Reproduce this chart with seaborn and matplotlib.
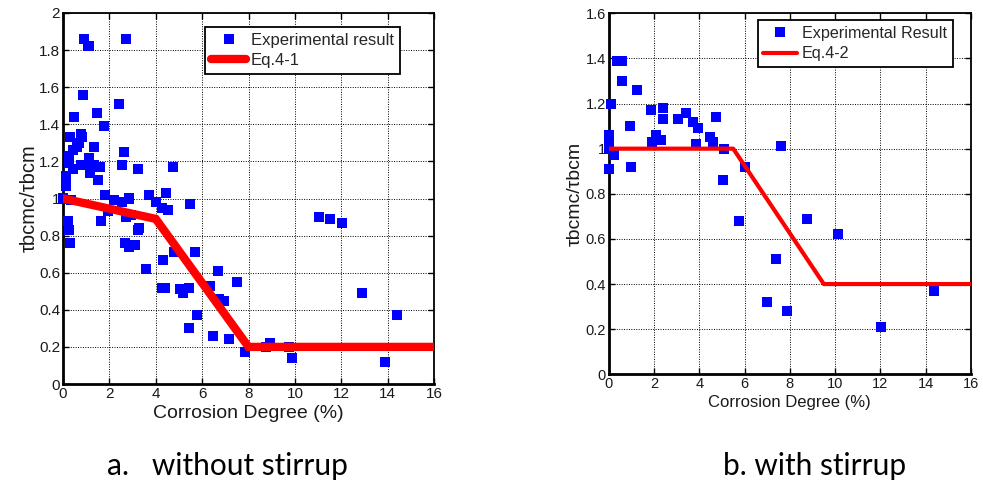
import numpy as np
import pandas as pd
import matplotlib
matplotlib.use("Agg")
import matplotlib.pyplot as plt
import seaborn as sns
from matplotlib.lines import Line2D

# ---- data: panel a (without stirrup) ----
a_x = [0.92, 1.10, 2.73, 0.88, 0.49, 1.47, 2.41, 1.78,
       0.29, 0.78, 0.83, 0.69, 0.59, 1.32, 0.45, 0.26, 0.26, 1.12, 0.45, 0.78, 1.09, 1.35, 1.59, 1.15, 1.52,
       2.64, 2.53, 3.22, 4.73,
       0.11, 0.11, 0.00, 0.34, 1.81, 2.21, 2.53, 2.84, 1.95, 2.72, 2.93, 1.64, 3.72, 4.43, 4.00, 4.28, 4.51, 5.46,
       3.28, 3.25, 2.67, 3.10, 2.84, 0.20, 0.26, 0.30,
       3.58, 4.30, 4.77, 5.68, 4.25, 4.41, 5.06, 5.17, 5.42, 6.32, 6.68, 7.50, 6.71, 6.95, 5.80, 5.45, 6.49, 7.14, 7.83,
       8.76, 8.93, 9.73, 9.89, 11.02, 11.52, 12.02, 12.89, 14.42, 13.87]
a_y = [1.86, 1.82, 1.86, 1.56, 1.44, 1.46, 1.51, 1.39,
       1.33, 1.35, 1.33, 1.30, 1.28, 1.28, 1.26, 1.23, 1.19, 1.22, 1.16, 1.18, 1.18, 1.18, 1.17, 1.14, 1.10,
       1.25, 1.18, 1.16, 1.17,
       1.12, 1.07, 1.00, 0.99, 1.02, 0.99, 0.98, 1.00, 0.93, 0.90, 0.91, 0.88, 1.02, 1.03, 0.98, 0.95, 0.94, 0.97,
       0.84, 0.83, 0.76, 0.75, 0.74, 0.88, 0.83, 0.76,
       0.62, 0.67, 0.71, 0.71, 0.52, 0.52, 0.51, 0.49, 0.52, 0.53, 0.61, 0.55, 0.46, 0.45, 0.37, 0.30, 0.26, 0.24, 0.17,
       0.20, 0.22, 0.20, 0.14, 0.90, 0.89, 0.87, 0.49, 0.37, 0.12]
eq41_x = [0, 4, 8, 16]
eq41_y = [1.0, 0.89, 0.2, 0.2]

# ---- data: panel b (with stirrup) ----
b_x = [0.35, 0.57, 0.59, 1.24, 0.09, 1.85, 2.41, 2.41, 3.04, 3.41, 3.71, 3.93, 4.74, 0.94, 2.09, 2.29, 1.90,
       4.47, 4.59, 3.84, 5.09, 0.00, 0.00, 0.03, 0.24, 0.00, 0.97, 6.03, 5.06, 7.60, 5.74, 7.00, 7.41, 8.76,
       10.13, 7.88, 12.03, 14.38]
b_y = [1.39, 1.39, 1.30, 1.26, 1.20, 1.17, 1.18, 1.13, 1.13, 1.16, 1.12, 1.09, 1.14, 1.10, 1.06, 1.04, 1.03,
       1.05, 1.03, 1.02, 1.00, 1.06, 1.03, 1.00, 0.97, 0.91, 0.92, 0.92, 0.86, 1.01, 0.68, 0.32, 0.51, 0.69,
       0.62, 0.28, 0.21, 0.37]
eq42_x = [0, 5.5, 9.5, 16]
eq42_y = [1.0, 1.0, 0.4, 0.4]

x_ticks = [0, 2, 4, 6, 8, 10, 12, 14, 16]
a_yticks = [0, 0.2, 0.4, 0.6, 0.8, 1.0, 1.2, 1.4, 1.6, 1.8, 2.0]
b_yticks = [0, 0.2, 0.4, 0.6, 0.8, 1.0, 1.2, 1.4, 1.6]

sns.set_theme(style="white")
plt.rcParams['font.family'] = ['Liberation Sans', 'DejaVu Sans']

fig = plt.figure(figsize=(9.83, 4.88), dpi=100)
ax1 = fig.add_axes([63/983, 1-384/488, (434-63)/983, (384-13)/488])
ax2 = fig.add_axes([608.7/983, 1-374.3/488, (971-608.7)/983, (374.3-13.3)/488])

def fmt(v):
    return ("%g" % v)

def style(ax, yticks, ymax, fs):
    ax.set_xlim(0, 16)
    ax.set_ylim(0, ymax)
    ax.set_xticks(x_ticks)
    ax.set_xticklabels([fmt(v) for v in x_ticks], fontsize=fs)
    ax.set_yticks(yticks)
    ax.set_yticklabels([fmt(v) for v in yticks], fontsize=fs)
    ax.grid(True, color='black', linestyle=(0, (1, 1.5)), linewidth=0.7)
    ax.tick_params(direction='in', length=4, width=1, top=True, right=True,
                   bottom=True, left=True, colors='black', pad=2,
                   labelcolor='#1a1a1a')
    for s in ax.spines.values():
        s.set_visible(True)
        s.set_color('black')
        s.set_linewidth(1.3)
    ax.spines['left'].set_linewidth(2)
    ax.spines['bottom'].set_linewidth(2)

dfa = pd.DataFrame({'x': a_x, 'y': a_y})
dfb = pd.DataFrame({'x': b_x, 'y': b_y})

sns.scatterplot(data=dfa, x='x', y='y', ax=ax1, marker='s', s=52, color='#0000ff',
                edgecolor='none', linewidth=0, zorder=3, clip_on=False)
sns.lineplot(x=eq41_x, y=eq41_y, ax=ax1, color='#ff0000', linewidth=6, estimator=None,
             sort=False, zorder=4, solid_joinstyle='miter')
style(ax1, a_yticks, 2.0, 11)
ax1.set_xlabel('Corrosion Degree (%)', fontsize=14, color='#1a1a1a', labelpad=3)
ax1.set_ylabel('\u03c4bcmc/\u03c4bcm', fontsize=14.5, color='#1a1a1a', labelpad=0)
h1 = [Line2D([], [], marker='s', color='#0000ff', linestyle='none', markersize=7, markeredgewidth=0),
      Line2D([], [], color='#ff0000', linewidth=6)]
leg1 = ax1.legend(h1, ['Experimental result', 'Eq.4-1'], loc='upper right',
                  bbox_to_anchor=(0.908, 0.962), frameon=True, fancybox=False,
                  framealpha=1, edgecolor='black', fontsize=12, handlelength=2.1,
                  handletextpad=0.3, borderpad=0.35, labelspacing=0.3, borderaxespad=0)
leg1.get_frame().set_linewidth(1.3)

sns.scatterplot(data=dfb, x='x', y='y', ax=ax2, marker='s', s=52, color='#0000ff',
                edgecolor='none', linewidth=0, zorder=3, clip_on=False)
sns.lineplot(x=eq42_x, y=eq42_y, ax=ax2, color='#ff0000', linewidth=3, estimator=None,
             sort=False, zorder=4)
style(ax2, b_yticks, 1.6, 10.5)
ax2.set_xlabel('Corrosion Degree (%)', fontsize=12, color='#1a1a1a', labelpad=3)
ax2.set_ylabel('\u03c4bcmc/\u03c4bcm', fontsize=14, color='#1a1a1a', labelpad=1)
h2 = [Line2D([], [], marker='s', color='#0000ff', linestyle='none', markersize=7, markeredgewidth=0),
      Line2D([], [], color='#ff0000', linewidth=3)]
leg2 = ax2.legend(h2, ['Experimental Result', 'Eq.4-2'], loc='upper right',
                  bbox_to_anchor=(0.949, 0.981), frameon=True, fancybox=False,
                  framealpha=1, edgecolor='black', fontsize=11.6, handlelength=2.1,
                  handletextpad=0.3, borderpad=0.35, labelspacing=0.35, borderaxespad=0)
leg2.get_frame().set_linewidth(1.3)

fig.text(107/983, 1-466/488, 'a.   without stirrup', fontsize=21.5, family=['Lato', 'DejaVu Sans'],
         ha='left', va='center', color='black')
fig.text(723/983, 1-466/488, 'b. with stirrup', fontsize=21.5, family=['Lato', 'DejaVu Sans'],
         ha='left', va='center', color='black')

fig.savefig('out.png', dpi=100, facecolor='white')
